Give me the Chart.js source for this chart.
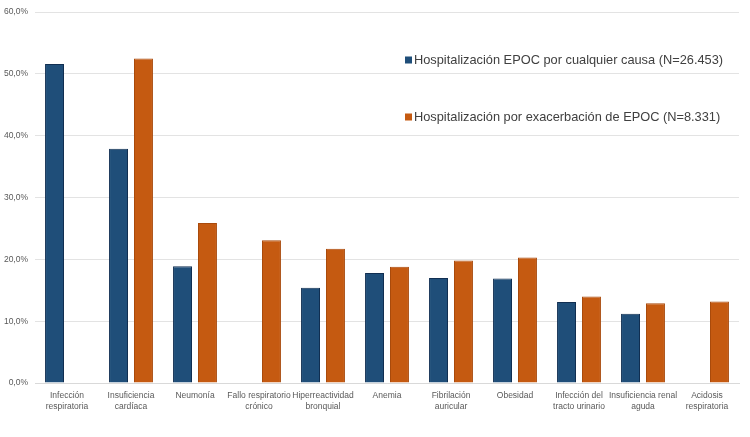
<!DOCTYPE html>
<html>
<head>
<meta charset="utf-8">
<script src="https://cdn.jsdelivr.net/npm/chart.js@4/dist/chart.umd.min.js"></script>
<style>
  html, body { margin: 0; padding: 0; background: #fff; }
  #wrap { width: 750px; height: 437px; position: relative; }
</style>
</head>
<body>
<div id="wrap"><canvas id="hospChart"></canvas></div>
<script>
// categories (multi-line labels)
const categories = [
    ["Infección", "respiratoria"],
    ["Insuficiencia", "cardíaca"],
    ["Neumonía"],
    ["Fallo respiratorio", "crónico"],
    ["Hiperreactividad", "bronquial"],
    ["Anemia"],
    ["Fibrilación", "auricular"],
    ["Obesidad"],
    ["Infección del", "tracto urinario"],
    ["Insuficiencia renal", "aguda"],
    ["Acidosis", "respiratoria"],
];

const seriesNames = [
    "Hospitalización EPOC por cualquier causa (N=26.453)",
    "Hospitalización por exacerbación de EPOC (N=8.331)",
];

// % of patients (null = no bar)
const anyCause = [51.6, 37.9, 18.9, null, 15.4, 17.8, 17.0, 16.9, 13.1, 11.2, null];
const exacerbation = [null, 52.5, 25.9, 23.1, 21.7, 18.8, 19.8, 20.3, 14.0, 12.9, 13.2];

const yTicks = [0, 10, 20, 30, 40, 50, 60];

const colors = ["#1f4e79", "#c55a11"];
const borders = ["#112f52", "#a94a0c"];

const fontFamily = "'Liberation Sans', Arial, sans-serif";

// legend drawn inside the plot area, top right
const innerLegend = {
    id: "innerLegend",
    afterDraw(chart) {
        const ctx = chart.ctx;
        const x = 405;
        const ys = [60, 117];
        ctx.save();
        ctx.font = "12.8px " + fontFamily;
        ctx.textBaseline = "middle";
        chart.data.datasets.forEach(function (ds, i) {
            ctx.fillStyle = ds.backgroundColor;
            ctx.fillRect(x, ys[i] - 3.5, 7, 7);
            ctx.fillStyle = "#404040";
            ctx.fillText(ds.label, x + 9, ys[i]);
        });
        ctx.restore();
    },
};

const ctx = document.getElementById("hospChart").getContext("2d");
new Chart(ctx, {
    type: "bar",
    data: {
        labels: categories,
        datasets: [
            {
                label: seriesNames[0],
                data: anyCause,
                backgroundColor: colors[0],
                borderColor: borders[0],
                borderWidth: 1,
            },
            {
                label: seriesNames[1],
                data: exacerbation,
                backgroundColor: colors[1],
                borderColor: borders[1],
                borderWidth: 1,
            },
        ],
    },
    options: {
        responsive: true,
        maintainAspectRatio: false,
        animation: false,
        categoryPercentage: 0.78,
        barPercentage: 0.76,
        layout: { padding: { top: 4.5, right: 11, left: 0, bottom: 0 } },
        plugins: {
            legend: { display: false },
            title: { display: false },
            tooltip: { enabled: false },
        },
        scales: {
            x: {
                grid: { display: false },
                border: { display: true, color: "#d9d9d9" },
                ticks: {
                    color: "#595959",
                    font: { family: fontFamily, size: 8.5, lineHeight: 1.2 },
                    maxRotation: 0,
                    autoSkip: false,
                    padding: 0,
                },
                afterFit(scale) { scale.height = 54; },
            },
            y: {
                min: 0,
                max: 60,
                afterBuildTicks(scale) {
                    scale.ticks = yTicks.map(function (v) { return { value: v }; });
                },
                grid: { color: "#e3e3e3", drawTicks: false },
                border: { display: false },
                ticks: {
                    color: "#595959",
                    font: { family: fontFamily, size: 8.5 },
                    padding: 7,
                    callback: function (v) { return v.toFixed(1).replace(".", ",") + "%"; },
                },
                afterFit(scale) { scale.width = 35; },
            },
        },
    },
    plugins: [innerLegend],
});
</script>
</body>
</html>
